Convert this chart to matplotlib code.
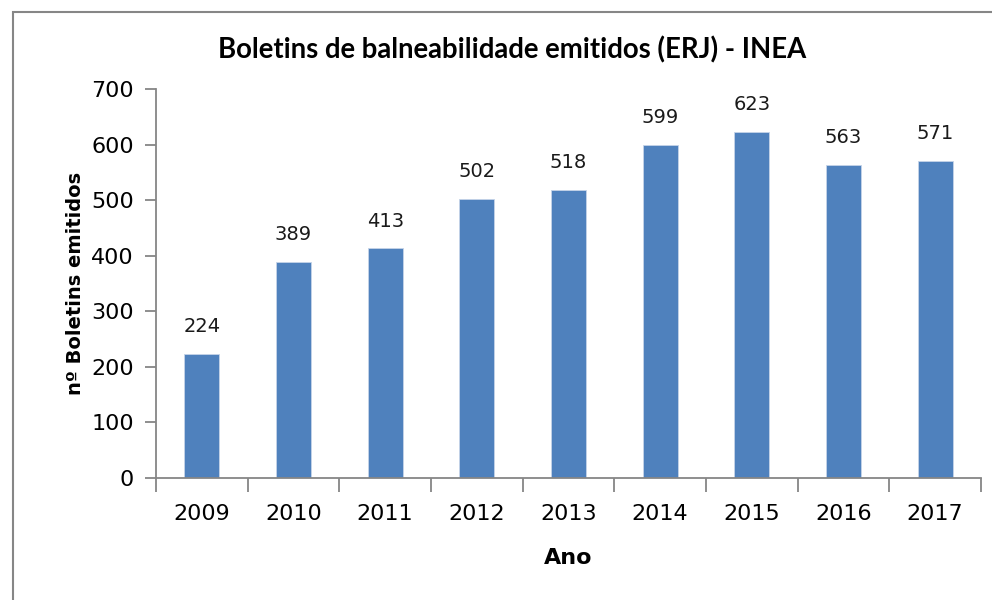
import matplotlib.pyplot as plt
import numpy as np
from matplotlib.patches import Rectangle

# data
years = ["2009", "2010", "2011", "2012", "2013", "2014", "2015", "2016", "2017"]
boletins = [224, 389, 413, 502, 518, 599, 623, 563, 571]

bar_color = "#4F81BD"
axis_color = "#868686"

fig = plt.figure(figsize=(9.92, 6), dpi=100)
ax = fig.add_axes([156 / 992, 122 / 600, 825 / 992, 389 / 600])

# outer frame of the chart (only left and top visible in the reference)
fig.patches.append(
    Rectangle((13 / 992, -0.1), 1.2, 1.1 - 12 / 600,
              transform=fig.transFigure, fill=False,
              edgecolor=axis_color, linewidth=1.5)
)

x = np.arange(len(years))
ax.bar(x, boletins, width=0.38, color=bar_color, edgecolor="#c6d4e8", linewidth=0.6)

for xi, v in zip(x, boletins):
    ax.text(xi, v + 32, str(v), ha="center", va="bottom", fontsize=14,
            family="DejaVu Sans", color="#1a1a1a")

ax.set_xlim(-0.5, len(years) - 0.5)
ax.set_ylim(0, 700)
ax.set_yticks(np.arange(0, 701, 100))

# category boundary ticks like excel
ax.set_xticks(np.arange(-0.5, len(years), 1.0))
ax.set_xticklabels([])
ax.set_xticks(x, minor=True)
ax.set_xticklabels(years, minor=True)
ax.tick_params(axis="x", which="major", length=10, width=1.3, color=axis_color)
ax.tick_params(axis="x", which="minor", length=0, pad=19, labelsize=16)
ax.tick_params(axis="y", length=8, width=1.3, color=axis_color, pad=8, labelsize=16)

for s in ["top", "right"]:
    ax.spines[s].set_visible(False)
for s in ["left", "bottom"]:
    ax.spines[s].set_color(axis_color)
    ax.spines[s].set_linewidth(1.3)

ax.set_xlabel("Ano", fontsize=16, fontweight="bold", labelpad=17)
ax.set_ylabel("nº Boletins emitidos", fontsize=14, fontweight="bold", labelpad=4)

fig.text(512 / 992, 1 - 50 / 600, "Boletins de balneabilidade emitidos (ERJ) - INEA",
         ha="center", va="center", fontsize=19.8, fontweight="bold", family="Lato")

fig.savefig("out.png", dpi=100)
